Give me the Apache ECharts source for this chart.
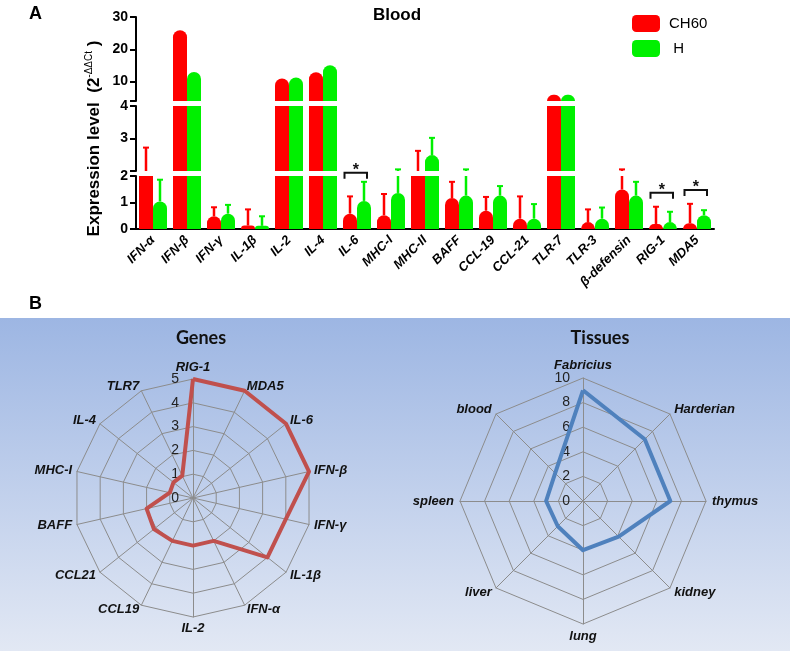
<!DOCTYPE html>
<html><head><meta charset="utf-8">
<script src="https://cdn.jsdelivr.net/npm/echarts@6/dist/echarts.min.js"></script>
<style>html,body{margin:0;padding:0;background:#fff}#c{width:790px;height:651px}</style>
</head><body><div id="c"></div>
<script>
// ---------- data ----------
const categories = ['IFN-α','IFN-β','IFN-γ','IL-1β','IL-2','IL-4','IL-6','MHC-I','MHC-II','BAFF','CCL-19','CCL-21','TLR-7','TLR-3','β-defensin','RIG-1','MDA5'];
const ch60Values = [2.0, 25.9, 0.48, 0.13, 11.0, 12.9, 0.58, 0.52, 2.0, 1.17, 0.69, 0.39, 5.9, 0.26, 1.49, 0.19, 0.22];
const hValues    = [1.04, 13.0, 0.58, 0.12, 11.3, 15.1, 1.06, 1.36, 2.49, 1.26, 1.26, 0.39, 5.9, 0.39, 1.26, 0.26, 0.52];
const ch60Err    = [0.72, 0, 0.34, 0.61, 0, 0, 0.65, 0.80, 0.62, 0.61, 0.52, 0.84, 0, 0.48, 0.56, 0.65, 0.73];
const hErr       = [0.82, 0, 0.33, 0.36, 0, 0, 0.72, 0.69, 0.53, 0.79, 0.36, 0.55, 0, 0.42, 0.52, 0.39, 0.19];
const sigCategories = ['IL-6','RIG-1','MDA5'];
const sigLevels = [2.12, 1.37, 1.47];
const topTicks = [4, 10, 20, 30], topLabels = [10, 20, 30];
const midTicks = [2, 3, 4], midLabels = [3, 4];
const geneNames  = ['RIG-1','MDA5','IL-6','IFN-β','IFN-γ','IL-1β','IFN-α','IL-2','CCL19','CCL21','BAFF','MHC-I','IL-4','TLR7'];
const geneValues = [5, 5, 5, 5, 4.0, 4.0, 2.0, 2.0, 2.0, 2.1, 2.0, 1.0, 1.05, 1.04];
const tissueNames  = ['Fabricius','Harderian','thymus','kidney','lung','liver','spleen','blood'];
const tissueValues = [9.0, 7.1, 7.1, 4.1, 4.0, 2.9, 3.0, 3.2];

// ---------- layout ----------
const FONT = 'Liberation Sans';
const RED = '#ff0000', GREEN = '#00f000';
const BAR_W = 14;
const segs = [
  {min: 4, max: 30, top: 17, height: 84, ticks: topTicks, labels: topLabels},
  {min: 2, max: 4, top: 106, height: 65, ticks: midTicks, labels: midLabels},
  {min: 0, max: 2, top: 176, height: 53, ticks: [0,1,2], labels: [0,1,2]}
];
const grids = [], xAxes = [], yAxes = [], series = [];
function barData(vals, seg) {
  return vals.map(v => ({value: v, itemStyle: {borderRadius: v >= seg.max ? 0 : [7,7,0,0]}}));
}
function errRender(offset, color) {
  return function (params, api) {
    const i = api.value(0), m = api.value(1), t = api.value(2);
    const cs = params.coordSys;
    const pm = api.coord([i, m]), pt = api.coord([i, t]);
    const x = pm[0] + offset;
    const yb = cs.y + cs.height, yt = cs.y;
    const y1 = Math.min(pm[1], yb), y2 = Math.max(pt[1], yt);
    if (y2 >= y1) return null;
    const ch = [{type: 'line', shape: {x1: x, y1: y1, x2: x, y2: y2}, style: {stroke: color, lineWidth: 2.5}}];
    if (pt[1] >= yt && pt[1] <= yb) ch.push({type: 'line', shape: {x1: x - 3, y1: pt[1], x2: x + 3, y2: pt[1]}, style: {stroke: color, lineWidth: 2}});
    return {type: 'group', children: ch};
  };
}
segs.forEach((s, g) => {
  const isBottom = g === 2;
  grids.push({left: 136, width: 578, top: s.top, height: s.height});
  xAxes.push({
    gridIndex: g, type: 'category', data: categories, show: isBottom,
    axisLine: {lineStyle: {color: '#000', width: 2}},
    axisTick: {alignWithLabel: true, length: 6, lineStyle: {color: '#000', width: 2}},
    axisLabel: {interval: 0, rotate: 45, margin: 9, color: '#000', fontFamily: FONT, fontSize: 13, fontWeight: 'bold', fontStyle: 'italic'}
  });
  const ya = {
    gridIndex: g, type: 'value', min: s.min, max: s.max,
    axisLine: {show: true, lineStyle: {color: '#000', width: 2}},
    axisTick: {show: true, length: 6, customValues: s.ticks, lineStyle: {color: '#000', width: 2}},
    axisLabel: {customValues: s.labels, color: '#000', fontFamily: FONT, fontSize: 14, fontWeight: 'bold', margin: 8},
    splitLine: {show: false}
  };
  if (g === 1) {
    ya.name = '{a|Expression level  (2}{s|-ΔΔCt}{a| )}';
    ya.nameLocation = 'middle';
    ya.nameRotate = 90;
    ya.nameGap = 32;
    ya.nameTextStyle = {rich: {
      a: {fontFamily: FONT, fontSize: 17, fontWeight: 'bold', color: '#000', lineHeight: 20},
      s: {fontFamily: FONT, fontSize: 10, color: '#000', lineHeight: 11, verticalAlign: 'top'}
    }};
  }
  yAxes.push(ya);
  series.push({name: 'CH60', type: 'bar', xAxisIndex: g, yAxisIndex: g, barWidth: BAR_W, barGap: '0%', clip: true,
    itemStyle: {color: RED}, data: barData(ch60Values, s), z: 3});
  series.push({name: 'H', type: 'bar', xAxisIndex: g, yAxisIndex: g, barWidth: BAR_W, barGap: '0%', clip: true,
    itemStyle: {color: GREEN}, data: barData(hValues, s), z: 3});
  series.push({type: 'custom', xAxisIndex: g, yAxisIndex: g, z: 2, silent: true,
    renderItem: errRender(-BAR_W / 2, RED),
    data: ch60Values.map((v, i) => [i, v, v + ch60Err[i]]).filter((d, i) => ch60Err[i] > 0)});
  series.push({type: 'custom', xAxisIndex: g, yAxisIndex: g, z: 2, silent: true,
    renderItem: errRender(BAR_W / 2, GREEN),
    data: hValues.map((v, i) => [i, v, v + hErr[i]]).filter((d, i) => hErr[i] > 0)});
});
// significance brackets
series.push({type: 'custom', xAxisIndex: 2, yAxisIndex: 2, clip: false, z: 5, silent: true,
  renderItem: function (params, api) {
    const p = api.coord([api.value(0), api.value(1)]);
    const l = p[0] - 12.5, r = p[0] + 10, y = p[1];
    return {type: 'group', children: [
      {type: 'polyline', shape: {points: [[l, y + 6], [l, y], [r, y], [r, y + 6]]}, style: {stroke: '#111', lineWidth: 2, fill: null}},
      {type: 'text', style: {text: '*', x: (l + r) / 2, y: y - 2, align: 'center', verticalAlign: 'middle', font: 'bold 16px ' + FONT, fill: '#111'}}
    ]};
  },
  data: sigCategories.map((c, k) => [categories.indexOf(c), sigLevels[k]])
});

// radar
const radarCommon = {
  shape: 'polygon', splitNumber: 5, nameGap: 5,
  axisName: {color: '#111', fontFamily: FONT, fontSize: 13, fontWeight: 'bold', fontStyle: 'italic'},
  splitLine: {lineStyle: {color: '#8c8c8c', width: 1}},
  splitArea: {show: false},
  axisLine: {lineStyle: {color: '#8c8c8c', width: 1}},
  axisLabel: {show: false}
};
function ccw(arr) { return [arr[0]].concat(arr.slice(1).reverse()); }
const radars = [
  Object.assign({}, radarCommon, {center: [193, 498], radius: 119,
    indicator: ccw(geneNames).map(n => ({name: n, min: 0, max: 5}))}),
  Object.assign({}, radarCommon, {center: [583, 501], radius: 123, nameGap: 6,
    indicator: ccw(tissueNames).map(n => ({name: n, min: 0, max: 10}))})
];
series.push({type: 'radar', radarIndex: 0, symbol: 'none', silent: true,
  lineStyle: {color: '#c0504d', width: 4}, itemStyle: {color: '#c0504d'},
  data: [{value: ccw(geneValues)}]});
series.push({type: 'radar', radarIndex: 1, symbol: 'none', silent: true,
  lineStyle: {color: '#4f81bd', width: 4}, itemStyle: {color: '#4f81bd'},
  data: [{value: ccw(tissueValues)}]});

const polarLabel0 = {color: '#222', fontFamily: FONT, fontSize: 14, margin: 14};
const polarLabel1 = {color: '#222', fontFamily: FONT, fontSize: 14, margin: 13};
const option = {
  animation: false,
  backgroundColor: '#fff',
  graphic: [{type: 'rect', z: -10, shape: {x: 0, y: 318, width: 790, height: 333},
    style: {fill: {type: 'linear', x: 0, y: 0, x2: 0, y2: 1, colorStops: [{offset: 0, color: '#9db6e3'}, {offset: 1, color: '#e2e8f4'}]}}}],
  title: [
    {text: 'A', left: 24, top: 0, textStyle: {fontFamily: FONT, fontSize: 18, fontWeight: 'bold', color: '#000'}},
    {text: 'Blood', left: 392, top: 2, textAlign: 'center', textStyle: {fontFamily: FONT, fontSize: 17, fontWeight: 'bold', color: '#000'}},
    {text: 'B', left: 24, top: 290, textStyle: {fontFamily: FONT, fontSize: 18, fontWeight: 'bold', color: '#000'}},
    {text: 'Genes', left: 196, top: 324, textAlign: 'center', textStyle: {fontFamily: 'Lato', fontSize: 18, fontWeight: 'bold', color: '#111'}},
    {text: 'Tissues', left: 595, top: 324, textAlign: 'center', textStyle: {fontFamily: 'Lato', fontSize: 18, fontWeight: 'bold', color: '#111'}}
  ],
  legend: {data: ['CH60', 'H'], orient: 'vertical', left: 627, top: 10, itemWidth: 28, itemHeight: 17, itemGap: 8,
    icon: 'roundRect', formatter: n => n === 'H' ? ' H' : n,
    textStyle: {fontFamily: FONT, fontSize: 15, color: '#000', padding: [0, 0, 0, 4]}},
  grid: grids, xAxis: xAxes, yAxis: yAxes,
  radar: radars,
  polar: [{center: [193, 498], radius: 119}, {center: [583, 501], radius: 123}],
  angleAxis: [{polarIndex: 0, show: false, type: 'value'}, {polarIndex: 1, show: false, type: 'value'}],
  radiusAxis: [
    {polarIndex: 0, type: 'value', min: 0, max: 5, interval: 1, axisLine: {show: false}, axisTick: {show: false}, splitLine: {show: false}, axisLabel: polarLabel0},
    {polarIndex: 1, type: 'value', min: 0, max: 10, interval: 2, axisLine: {show: false}, axisTick: {show: false}, splitLine: {show: false}, axisLabel: polarLabel1}
  ],
  series: series
};
const chart = echarts.init(document.getElementById('c'), null, {renderer: 'canvas'});
chart.setOption(option);
</script></body></html>
